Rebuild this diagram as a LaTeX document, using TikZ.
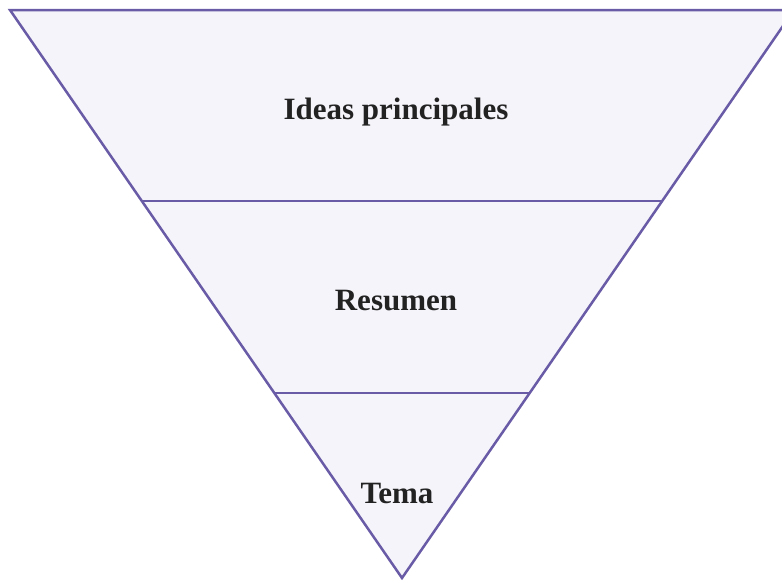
\documentclass[tikz,border=0pt]{standalone}
\usepackage{fontspec}
\setmainfont{Liberation Serif}
\usepackage{tikz}
\usetikzlibrary{calc}

\definecolor{pyrline}{HTML}{6A5BA7}
\definecolor{pyrfill}{HTML}{F5F4FA}
\definecolor{pyrtext}{HTML}{222222}

\begin{document}
\begin{tikzpicture}[x=1pt, y=-1pt,
    tier/.style={text=pyrtext, font=\fontsize{31}{36}\selectfont\bfseries}]
      \useasboundingbox (0,0) rectangle (782,581);

      \coordinate (TL) at (10, 10);
      \coordinate (TR) at (794, 10);
      \coordinate (Ap) at (402, 578);
      \coordinate (L1) at ($(TL)!0.3363!(Ap)$);
      \coordinate (R1) at ($(TR)!0.3363!(Ap)$);
      \coordinate (L2) at ($(TL)!0.6743!(Ap)$);
      \coordinate (R2) at ($(TR)!0.6743!(Ap)$);

      \draw[pyrline, fill=pyrfill, line width=2.5pt, line join=miter]
           (TL) -- (TR) -- (Ap) -- cycle;
      \draw[pyrline, line width=2.5pt] (L1) -- (R1);
      \draw[pyrline, line width=2.5pt] (L2) -- (R2);

      \node[tier] (ideas)  at (396, 112) {Ideas principales};
      \node[tier] (resum)  at (396, 301) {Resumen};
      \node[tier] (tema)   at (397, 493) {Tema};
\end{tikzpicture}
\end{document}
